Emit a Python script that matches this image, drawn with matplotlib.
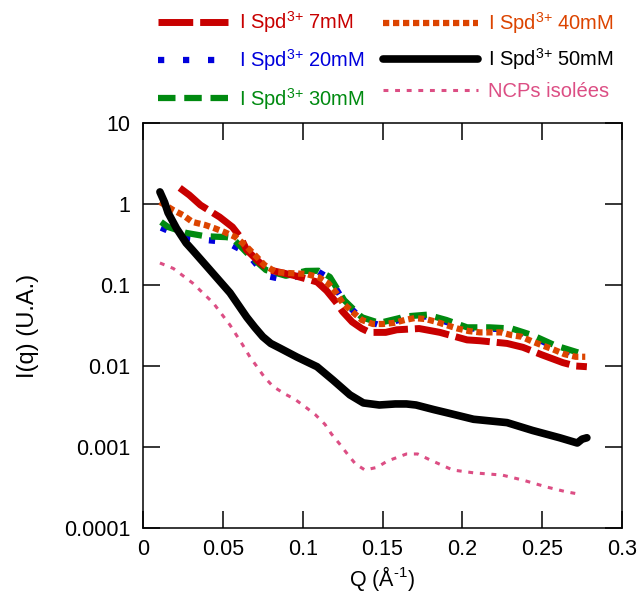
import matplotlib
matplotlib.use("Agg")
import matplotlib.pyplot as plt
from matplotlib.ticker import FixedLocator, FixedFormatter

plt.rcParams["font.family"] = ["Liberation Sans", "DejaVu Sans"]
plt.rcParams["mathtext.fontset"] = "custom"
plt.rcParams["mathtext.rm"] = "Liberation Sans"
plt.rcParams["mathtext.it"] = "Liberation Sans"

# ---------------------------------------------------------------------------
# Data
# ---------------------------------------------------------------------------
q_7mM = [0.023, 0.029, 0.036, 0.048, 0.056, 0.061, 0.065, 0.073, 0.0795, 0.094,
         0.109, 0.115, 0.121, 0.125, 0.131, 0.137, 0.142, 0.152, 0.159, 0.173,
         0.186, 0.203, 0.211, 0.228, 0.238, 0.250, 0.263, 0.271, 0.278]
i_7mM = [1.58, 1.29, 0.97, 0.69, 0.52, 0.39, 0.27, 0.19, 0.153, 0.132,
         0.109, 0.085, 0.061, 0.047, 0.035, 0.029, 0.026, 0.026, 0.028, 0.029,
         0.026, 0.021, 0.0205, 0.019, 0.017, 0.0137, 0.011, 0.010, 0.0098]

q_20mM = [0.0113, 0.025, 0.039, 0.052, 0.065, 0.077, 0.0895, 0.102, 0.110, 0.117,
          0.126, 0.137, 0.148, 0.165, 0.178, 0.190, 0.203, 0.217, 0.231, 0.244,
          0.258, 0.271]
i_20mM = [0.51, 0.39, 0.36, 0.34, 0.25, 0.13, 0.115, 0.14, 0.145, 0.12,
          0.062, 0.038, 0.032, 0.039, 0.041, 0.035, 0.029, 0.029, 0.028, 0.023,
          0.017, 0.014]

q_30mM = [0.0113, 0.0157, 0.027, 0.039, 0.052, 0.056, 0.065, 0.073, 0.077, 0.0895,
          0.102, 0.110, 0.117, 0.126, 0.137, 0.148, 0.165, 0.178, 0.190, 0.203,
          0.217, 0.231, 0.244, 0.258, 0.271, 0.276]
i_30mM = [0.60, 0.52, 0.44, 0.40, 0.39, 0.38, 0.25, 0.18, 0.153, 0.13,
          0.149, 0.150, 0.126, 0.065, 0.040, 0.034, 0.041, 0.043, 0.037, 0.030,
          0.030, 0.029, 0.024, 0.018, 0.015, 0.014]

q_40mM = [0.0106, 0.019, 0.025, 0.031, 0.039, 0.045, 0.051, 0.058, 0.064, 0.070,
          0.076, 0.083, 0.0895, 0.102, 0.110, 0.116, 0.121, 0.125, 0.131, 0.137,
          0.144, 0.150, 0.157, 0.164, 0.170, 0.177, 0.184, 0.190, 0.197, 0.204,
          0.211, 0.217, 0.224, 0.231, 0.237, 0.244, 0.250, 0.257, 0.264, 0.271,
          0.277]
i_40mM = [1.06, 0.84, 0.73, 0.60, 0.55, 0.50, 0.45, 0.39, 0.31, 0.235,
          0.177, 0.145, 0.141, 0.137, 0.125, 0.105, 0.080, 0.060, 0.047, 0.037,
          0.033, 0.033, 0.034, 0.037, 0.039, 0.038, 0.035, 0.032, 0.029, 0.027,
          0.026, 0.026, 0.026, 0.024, 0.023, 0.020, 0.018, 0.016, 0.014, 0.013,
          0.013]

q_50mM = [0.0106, 0.0135, 0.0157, 0.021, 0.027, 0.031, 0.042, 0.0545, 0.065, 0.070,
          0.075, 0.080, 0.0858, 0.0964, 0.109, 0.119, 0.1296, 0.138, 0.148, 0.158,
          0.165, 0.171, 0.182, 0.192, 0.207, 0.228, 0.244, 0.261, 0.272, 0.275,
          0.278]
i_50mM = [1.41, 1.05, 0.78, 0.50, 0.33, 0.27, 0.153, 0.080, 0.040, 0.030,
          0.023, 0.019, 0.0166, 0.0129, 0.0098, 0.0067, 0.0044, 0.0035, 0.0033, 0.0034,
          0.0034, 0.0033, 0.0029, 0.0026, 0.0022, 0.0020, 0.0016, 0.0013, 0.00112, 0.00125,
          0.0013]

q_ncp = [0.0106, 0.019, 0.031, 0.044, 0.0545, 0.0626, 0.067, 0.0714, 0.076, 0.0814,
         0.089, 0.095, 0.101, 0.108, 0.114, 0.118, 0.123, 0.128, 0.133, 0.139,
         0.1465, 0.153, 0.165, 0.172, 0.180, 0.194, 0.207, 0.225, 0.238, 0.253,
         0.265, 0.274]
i_ncp = [0.187, 0.16, 0.106, 0.06, 0.032, 0.018, 0.0129, 0.0098, 0.0073, 0.0056,
         0.0045, 0.0039, 0.0032, 0.0025, 0.0019, 0.00145, 0.0011, 0.00082, 0.00062, 0.00052,
         0.00056, 0.00067, 0.00082, 0.00082, 0.00069, 0.00052, 0.00048, 0.00045, 0.00039, 0.00032,
         0.00028, 0.00026]

y_ticks = [1e-4, 1e-3, 1e-2, 1e-1, 1, 10]
y_labels = ["0.0001", "0.001", "0.01", "0.1", "1", "10"]
x_ticks = [0, 0.05, 0.1, 0.15, 0.2, 0.25, 0.3]
x_labels = ["0", "0.05", "0.1", "0.15", "0.2", "0.25", "0.3"]

RED = "#C80000"
ORANGE = "#DC4400"
BLUE = "#0000DC"
GREEN = "#008A10"
PINK = "#DC4E84"

FS = 15.5
SUP = r"I Spd$^{\text{3+}}$ "

fig = plt.figure(figsize=(6.41, 5.92), dpi=100)
ax = fig.add_axes([143 / 641, 1 - 528 / 592, (622 - 143) / 641, (528 - 123) / 592])

h_ncp, = ax.plot(q_ncp, i_ncp, color=PINK, lw=2.2, dashes=(1.6, 2.2), zorder=2,
                 label="NCPs isolées")
h_20, = ax.plot(q_20mM, i_20mM, color=BLUE, lw=4.5, dashes=(1, 3), zorder=3,
                label=SUP + "20mM")
h_30, = ax.plot(q_30mM, i_30mM, color=GREEN, lw=4.5, dashes=(2.8, 1.4), zorder=4,
                label=SUP + "30mM")
h_7, = ax.plot(q_7mM, i_7mM, color=RED, lw=5, dashes=(5, 1), zorder=5,
               label=SUP + "7mM")
h_40, = ax.plot(q_40mM, i_40mM, color=ORANGE, lw=4.5, dashes=(1, 0.6), zorder=6,
                label=SUP + "40mM")
h_50, = ax.plot(q_50mM, i_50mM, color="black", lw=5.5, zorder=7,
                solid_capstyle="round", solid_joinstyle="round",
                label=SUP + "50mM")

ax.set_yscale("log")
ax.set_xlim(0, 0.3)
ax.set_ylim(1e-4, 10)
ax.yaxis.set_major_locator(FixedLocator(y_ticks))
ax.yaxis.set_major_formatter(FixedFormatter(y_labels))
ax.yaxis.set_minor_locator(FixedLocator([]))
ax.xaxis.set_major_locator(FixedLocator(x_ticks))
ax.xaxis.set_major_formatter(FixedFormatter(x_labels))

ax.tick_params(direction="in", length=12, width=1.1, top=True, right=True,
               labelsize=FS)
ax.tick_params(axis="y", pad=9)
ax.tick_params(axis="x", pad=8)
for sp in ax.spines.values():
    sp.set_linewidth(1.1)

ax.set_xlabel(r"Q (Å$^{\text{-1}}$)", fontsize=FS, labelpad=3)
ax.set_ylabel("I(q) (U.A.)", fontsize=17, labelpad=18)

# two staggered legend columns above the plot
leg_kw = dict(frameon=False, fontsize=14.5, labelcolor="linecolor",
              borderpad=0, borderaxespad=0, handletextpad=0.5,
              loc="upper left")
leg1 = fig.legend(handles=[h_7, h_20, h_30], handlelength=3.5, labelspacing=0.62,
                  bbox_to_anchor=(158 / 641, 1 - 9 / 592), **leg_kw)
leg2 = fig.legend(handles=[h_40, h_50, h_ncp], handlelength=4.7, labelspacing=0.5,
                  bbox_to_anchor=(383 / 641, 1 - 10 / 592), **leg_kw)

fig.savefig("out.png", dpi=100)
